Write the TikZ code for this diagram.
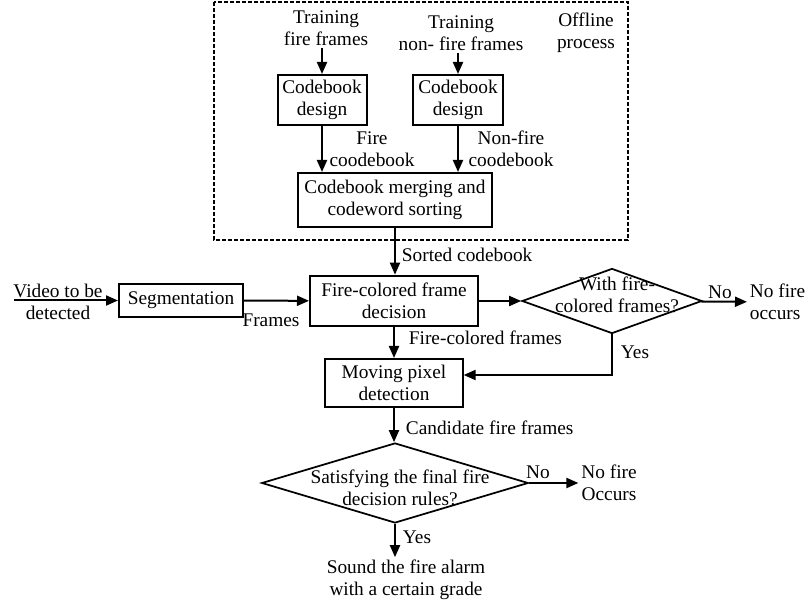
\documentclass[tikz,border=0pt]{standalone}
\usepackage{fontspec}
\setmainfont{Liberation Serif}
\usetikzlibrary{arrows.meta,shapes.geometric}
\tikzstyle{block}=[draw,line width=1.5pt,align=center,inner sep=0pt]
\tikzstyle{decision}=[diamond,draw,line width=1.3pt,inner sep=0pt]
\tikzstyle{txt}=[align=center,inner sep=2pt]
\tikzstyle{flow}=[-{Triangle[length=9pt,width=7.5pt]},line width=1.5pt]

\begin{document}
\begin{tikzpicture}[x=0.75pt,y=-0.75pt,font=\fontsize{14.5}{16.5}\selectfont]
\useasboundingbox (0,0) rectangle (808,602);
% offline process
\draw[dash pattern=on 3pt off 1.5pt, line width=1.2pt] (214,2) rectangle (628,240);
\node[txt] at (326, 28) (trf) {Training\\fire frames};
\node[txt] at (461, 33) (trn) {Training\\non- fire frames};
\node[txt] at (586, 33) (off) {Offline\\process};
\node[block, minimum width=66.75pt, minimum height=37.5pt] at (322, 100) (cb1) {Codebook\\design};
\node[block, minimum width=67.5pt, minimum height=37.5pt] at (458, 100) (cb2) {Codebook\\design};
\node[block, minimum width=145pt, minimum height=40.5pt] at (395, 200) (merge) {Codebook merging and\\codeword sorting};
\node[txt] at (372, 149) (fcb) {Fire\\coodebook};
\node[txt] at (511, 149) (nfcb) {Non-fire\\coodebook};
\draw[flow] (cb1 |- trf.south) -- (cb1);
\draw[flow] (cb2 |- trn.south) -- (cb2);
\draw[flow] (cb1) -- (cb1 |- merge.north);
\draw[flow] (cb2) -- (cb2 |- merge.north);
% online process
\coordinate (vin) at (14, 300.5);
\node[txt] at (58, 302) (vid) {Video to be\\detected};
\node[block, minimum width=93pt, minimum height=25pt] at (181, 300.5) (seg) {Segmentation};
\node[block, minimum width=126pt, minimum height=38pt] at (394, 301) (fcd) {Fire-colored frame\\decision};
\node[decision, minimum width=135pt, minimum height=48.75pt] at (612, 301) (d1) {};
\node[txt] at (617, 295) (d1txt) {With fire-\\colored frames?};
\node[txt, align=left, anchor=west] at (747, 302) (nf1) {No fire\\occurs};
\node[block, minimum width=103pt, minimum height=36pt] at (394, 383) (mpd) {Moving pixel\\detection};
\node[decision, minimum width=200pt, minimum height=60pt] at (395, 483) (d2) {};
\node[txt] at (400, 488) (d2txt) {Satisfying the final fire\\decision rules?};
\node[txt] at (609, 483) (nf2) {No fire\\Occurs};
\node[txt] at (406, 580) (snd) {Sound the fire alarm\\with a certain grade};
\draw[flow] (merge.south) -- (merge.south |- fcd.north);
\draw[flow] (vin) -- (seg);
\draw[flow] (seg) -- (fcd);
\draw[flow] (fcd) -- (d1);
\draw[flow] (d1) -- (nf1);
\draw[flow] (d1.south) |- ([yshift=6pt]mpd.east);
\draw[flow] (fcd.south) -- (fcd.south |- mpd.north);
\draw[flow] (mpd.south) -- (mpd.south |- d2.north);
\draw[flow] (d2) -- (nf2);
\draw[flow] (d2.south) -- (d2.south |- snd.north);
% labels
\node[txt, anchor=west] at (399, 255) (srt) {Sorted codebook};
\node[txt] at (271, 320) (frm) {Frames};
\node[txt] at (720, 292) (no1) {No};
\node[txt] at (635, 352) (yes1) {Yes};
\node[txt, anchor=west] at (406, 338) (fcf) {Fire-colored frames};
\node[txt, anchor=west] at (403, 428) (cff) {Candidate fire frames};
\node[txt] at (538, 472) (no2) {No};
\node[txt] at (417, 537) (yes2) {Yes};
\end{tikzpicture}
\end{document}
